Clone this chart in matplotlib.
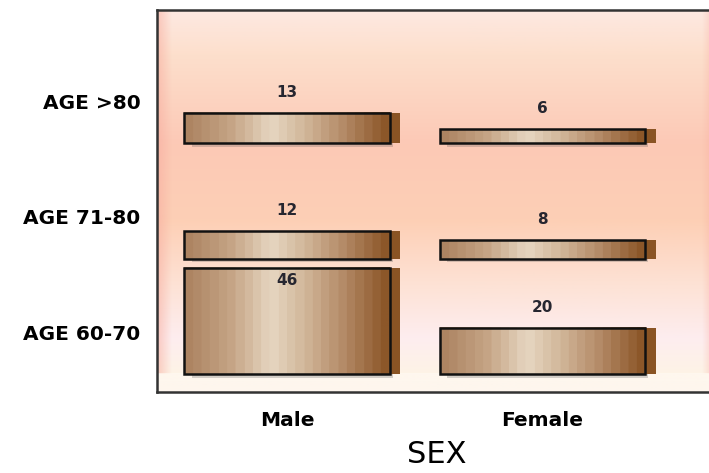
import numpy as np
import matplotlib.pyplot as plt
from matplotlib.colors import LinearSegmentedColormap, to_rgb
from matplotlib.patches import Rectangle

# data
sexes = ['Male', 'Female']
age_groups = ['AGE 60-70', 'AGE 71-80', 'AGE >80']
male_counts = [46, 12, 13]
female_counts = [20, 8, 6]

band = 50          # height of one age row, in counts
bar_w = 0.806
side_w = 0.04

plt.rcParams['font.family'] = ['DejaVu Sans']

fig = plt.figure(figsize=(7.09, 4.73), dpi=100)
W, H = 709, 473
ax = fig.add_axes([157 / W, (H - 392) / H, 1 - 157 / W + 0.01, (392 - 10) / H])

x_lo, x_hi = -0.51, 1.68
y_lo, y_hi = -7.8, 157.6
ax.set_xlim(x_lo, x_hi)
ax.set_ylim(y_lo, y_hi)

# background wall: vertical gradient
stops = [(0.0, '#fde9e2'), (0.12, '#fddfcc'), (0.35, '#fcc9b6'), (0.55, '#fdcfb5'),
         (0.72, '#fde2d5'), (0.86, '#fdedef'), (0.95, '#fef3e6'), (1.0, '#fef6ee')]
pos = np.linspace(0, 1, 300)
cols = np.array([to_rgb(c) for _, c in stops])
grad = np.stack([np.interp(pos, [p for p, _ in stops], cols[:, k]) for k in range(3)], axis=-1)
ax.imshow(grad[:, None, :], extent=[x_lo, x_hi, y_lo, y_hi], aspect='auto', zorder=0)

# bevel on the left and right edges
px = (x_hi - x_lo) / 552
edge = np.zeros((1, 50, 4))
edge[..., :3] = to_rgb('#f7a99c')
edge[..., 3] = np.linspace(0.55, 0, 50)
ax.imshow(edge, extent=[x_lo, x_lo + 14 * px, y_lo + 8, y_hi], aspect='auto', zorder=0.5)
ax.imshow(edge[:, ::-1], extent=[x_hi - 14 * px, x_hi, y_lo + 8, y_hi], aspect='auto', zorder=0.5)
floor = np.zeros((50, 1, 4))
floor[..., :3] = to_rgb('#fffaf3')
floor[..., 3] = np.linspace(0.7, 0.2, 50)[:, None]
ax.imshow(floor, extent=[x_lo, x_hi, y_lo, 0], aspect='auto', zorder=0.6)

# bar face colours
bar_cmap = LinearSegmentedColormap.from_list(
    'bar', [(0.0, '#ad8462'), (0.22, '#c6a586'), (0.42, '#e6d6c1'), (0.58, '#d3b99c'),
            (0.78, '#b58c69'), (1.0, '#8c5729')], N=24)
face = np.linspace(0, 1, 200)[None, :]


def draw_bar(xc, base, value):
    x0 = xc - bar_w / 2
    x1 = xc + bar_w / 2
    ax.add_patch(Rectangle((x0 + 0.03, base - 1.6), bar_w - 0.02, 1.6,
                           facecolor='#555555', alpha=0.25, lw=0, zorder=2))
    ax.add_patch(Rectangle((x1, base), side_w, value, facecolor='#8a5424', lw=0, zorder=2.5))
    ax.imshow(face, extent=[x0, x1, base, base + value], aspect='auto', cmap=bar_cmap, zorder=3)
    ax.add_patch(Rectangle((x0, base), bar_w, value, fill=False, edgecolor='#111111',
                           lw=1.8, zorder=4))
    ty = base + value + 9
    if value + 9 > band - 2:
        ty = base + value - 5.6
    ax.text(xc, ty, str(value), ha='center', va='center', fontsize=11,
            fontweight='bold', color='#262630', zorder=5)


for i, counts in enumerate([male_counts, female_counts]):
    for r, v in enumerate(counts):
        draw_bar(i, r * band, v)

ax.set_xticks(range(len(sexes)))
ax.set_xticklabels(sexes, fontsize=14.5, fontweight='bold')
ax.set_yticks([r * band + 18 for r in range(len(age_groups))])
ax.set_yticklabels(age_groups, fontsize=14.5, fontweight='bold')
ax.tick_params(length=0)
ax.tick_params(axis='y', pad=12)
ax.tick_params(axis='x', pad=14)
ax.set_xlabel('SEX', fontsize=22, labelpad=7)

for s in ['top', 'left', 'bottom']:
    ax.spines[s].set_linewidth(1.8)
    ax.spines[s].set_color('#333333')
ax.spines['right'].set_visible(False)

fig.savefig('out.png', dpi=100)
